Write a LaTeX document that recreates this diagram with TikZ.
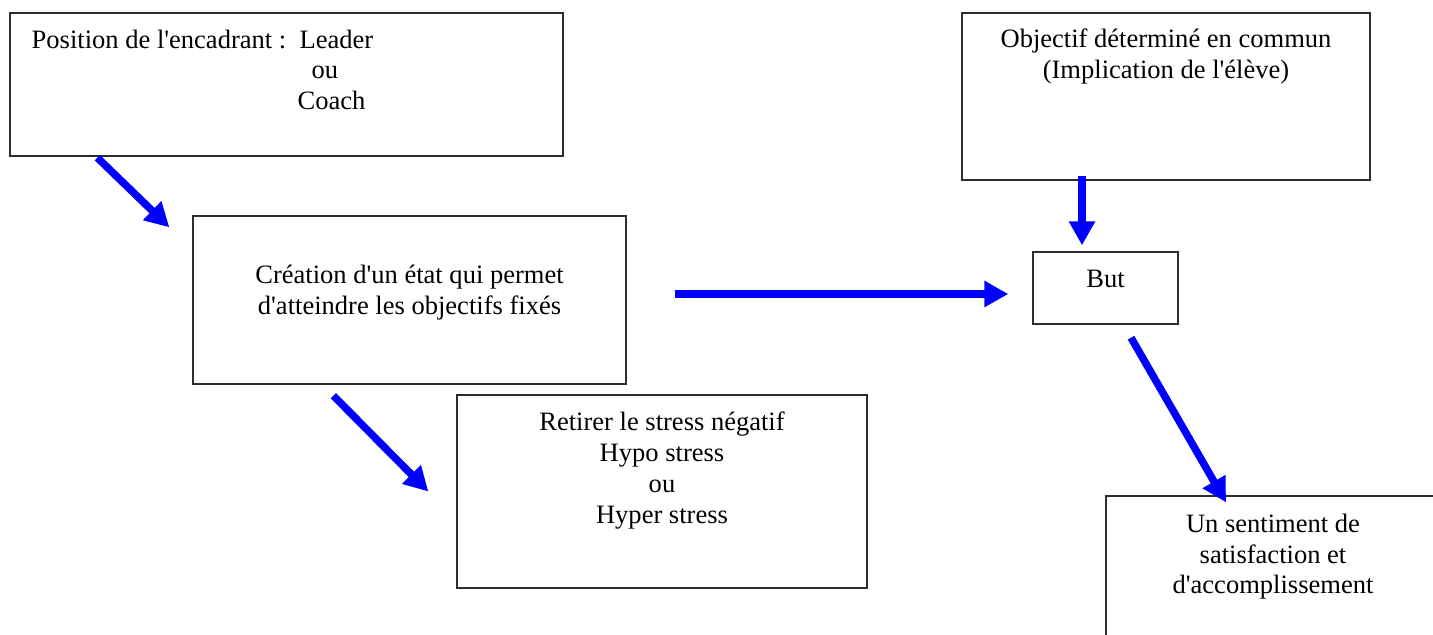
\documentclass[tikz,border=0pt]{standalone}
\usepackage{fontspec}
\setmainfont{Liberation Serif}
\usepackage{xcolor}
\usepackage{tikz}
\usetikzlibrary{arrows.meta, positioning, calc}
\definecolor{ArrBlue}{RGB}{0,0,255}
\definecolor{BoxLine}{RGB}{45,45,45}
\newcommand{\apos}{\textquotesingle}

\begin{document}
\begin{tikzpicture}[x=0.02cm, y=-0.02cm,
          bx/.style={rectangle, draw=BoxLine, line width=0.8pt, inner sep=0pt},
          txt/.style={inner sep=0pt, align=center,
                      font=\fontsize{15.1}{17.6}\selectfont},
          arr/.style={-{Triangle[length=0.48cm, width=0.5cm]},
                      draw=ArrBlue, line width=0.15cm}
        ]
        \useasboundingbox (0,0) rectangle (1433,635);
        \clip (0,0) rectangle (1433,635);

        % LEFT
        \node[bx, minimum width=11.06cm, minimum height=2.86cm]
              (pos) at (286.5, 84.5) {};
        \node[txt, align=left, anchor=north west] (posT)
              at ([shift={(22,17)}]pos.north west)
              {Position de l\apos{}encadrant :\ \ Leader\\
               \hspace*{5.6cm}ou\\
               \hspace*{5.32cm}Coach};
        \node[bx, minimum width=8.66cm, minimum height=3.36cm]
              (cre) at (409.5, 300) {};
        \node[txt, anchor=north] (creT) at ([shift={(0,49)}]cre.north)
              {Création d\apos{}un état qui permet\\
               d\apos{}atteindre les objectifs fixés};
        \node[bx, minimum width=8.2cm, minimum height=3.86cm]
              (ret) at (662, 491.5) {};
        \node[txt, anchor=north] (retT) at ([shift={(0,17)}]ret.north)
              {Retirer le stress négatif\\Hypo stress\\ou\\Hyper stress};
        \draw[arr] ([shift={(88,1)}]pos.south west)
                -- ([shift={(-23,12)}]cre.north west);
        \draw[arr] ([shift={(141,11)}]cre.south west)
                -- ([shift={(-28,0)}]ret.west);

        % RIGHT
        \node[bx, minimum width=8.16cm, minimum height=3.34cm]
              (obj) at (1166, 96.5) {};
        \node[txt, anchor=north] (objT) at ([shift={(0,16)}]obj.north)
              {Objectif déterminé en commun\\(Implication de l\apos{}élève)};
        \node[bx, minimum width=2.9cm, minimum height=1.44cm]
              (but) at (1105.5, 288) {};
        \node[txt, anchor=north] (butT) at ([shift={(0,18)}]but.north) {But};
        \node[bx, minimum width=6.68cm, minimum height=4.08cm]
              (sen) at (1273, 598) {};
        \node[txt, anchor=north] (senT) at ([shift={(0,18)}]sen.north)
              {Un sentiment de\\satisfaction et\\d\apos{}accomplissement};
        \draw[arr] ([shift={(48,-6)}]cre.east)
                -- ([shift={(-24,6)}]but.west);
        \draw[arr] ([shift={(-84,-5)}]obj.south)
                -- ([shift={(-23.5,-6)}]but.north);
        \draw[arr] ([shift={(25.5,13)}]but.south)
                -- ([shift={(-47,7)}]sen.north);
      \end{tikzpicture}
\end{document}
